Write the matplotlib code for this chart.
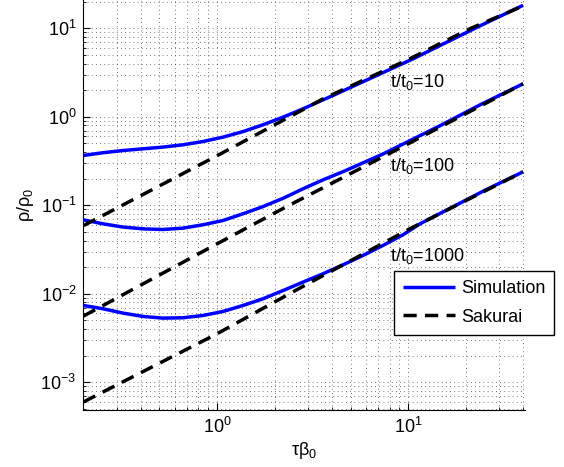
import matplotlib
matplotlib.use("Agg")
import matplotlib.pyplot as plt
from matplotlib.ticker import LogLocator, NullFormatter

plt.rcParams['font.family'] = ['Liberation Sans', 'DejaVu Sans']
plt.rcParams['mathtext.fontset'] = 'custom'
plt.rcParams['mathtext.rm'] = 'Liberation Sans'
plt.rcParams['mathtext.it'] = 'Liberation Sans'
plt.rcParams['mathtext.default'] = 'regular'
plt.rcParams['font.size'] = 13

# Simulation curves
sim10_x = [0.2, 0.253, 0.322, 0.41, 0.521, 0.664, 0.845, 1.074, 1.368, 1.742,
           2.218, 2.818, 3.589, 4.046, 10.62, 23.82, 40]
sim10_y = [0.366, 0.393, 0.416, 0.435, 0.455, 0.483, 0.526, 0.589, 0.681, 0.813,
           0.992, 1.23, 1.556, 1.742, 4.519, 10.67, 18.2]

sim100_x = [0.2, 0.253, 0.322, 0.41, 0.521, 0.664, 0.845, 1.074, 1.368, 1.742,
            2.218, 2.818, 3.589, 4.571, 7.396, 10, 14.72, 23.82, 40]
sim100_y = [0.0685, 0.0618, 0.0568, 0.0542, 0.0533, 0.0552, 0.0603, 0.0673, 0.0802,
            0.0968, 0.12, 0.1535, 0.194, 0.24, 0.38, 0.525, 0.794, 1.365, 2.36]

sim1000_x = [0.2, 0.253, 0.322, 0.41, 0.521, 0.664, 0.845, 1.074, 1.368, 1.742,
             2.218, 2.818, 3.589, 4.571, 5.808, 7.396, 9.419, 11.56, 25.29, 40]
sim1000_y = [0.00738, 0.00678, 0.00605, 0.00555, 0.00531, 0.00536, 0.00569, 0.00631,
             0.00738, 0.00879, 0.01089, 0.01355, 0.01683, 0.02128, 0.0271, 0.0352,
             0.0465, 0.0618, 0.148, 0.239]

# Sakurai curves
sak10_x = [0.2, 1.0, 3.6, 10.2, 21, 40]
sak10_y = [0.059, 0.363, 1.60, 4.52, 9.86, 17.9]

sak100_x = [0.2, 1.0, 2.3, 10, 40]
sak100_y = [0.0056, 0.0367, 0.096, 0.495, 2.36]

sak1000_x = [0.2, 1.0, 2.5, 10.2, 40]
sak1000_y = [0.0006, 0.00353, 0.01054, 0.0542, 0.239]

labels = ['t/t$_0$=10', 't/t$_0$=100', 't/t$_0$=1000']
label_x = [8.05, 8.05, 8.05]
label_y = [2.48, 0.279, 0.0269]

fig = plt.figure(figsize=(5.64, 4.67), dpi=100)
ax = fig.add_axes([0.148, 0.122, 0.783, 0.878])

dash = (0, (3.8, 2.4))
sims = [(sim10_x, sim10_y), (sim100_x, sim100_y), (sim1000_x, sim1000_y)]
saks = [(sak10_x, sak10_y), (sak100_x, sak100_y), (sak1000_x, sak1000_y)]
for i, ((sx, sy), (kx, ky)) in enumerate(zip(sims, saks)):
  ax.plot(sx, sy, color='#0000ff', lw=2.5, solid_capstyle='butt',
          solid_joinstyle='round', label='Simulation' if i == 0 else None, zorder=3)
  ax.plot(kx, ky, color='k', lw=2.5, linestyle=dash, dash_capstyle='butt',
          label='Sakurai' if i == 0 else None, zorder=4)

for txt, tx, ty in zip(labels, label_x, label_y):
  ax.text(tx, ty, txt, ha='left', va='center', fontsize=13, zorder=5)

ax.set_xscale('log')
ax.set_yscale('log')
ax.set_xlim(0.2, 41)
ax.set_ylim(4.86e-4, 20.9)

ax.xaxis.set_minor_locator(LogLocator(base=10, subs=range(2, 10)))
ax.yaxis.set_minor_locator(LogLocator(base=10, subs=range(2, 10)))
ax.xaxis.set_minor_formatter(NullFormatter())
ax.yaxis.set_minor_formatter(NullFormatter())

ax.grid(True, which='both', color='k', linestyle=(0, (1, 4)), linewidth=0.6, alpha=0.7)
ax.tick_params(which='both', direction='in', top=False, right=False)
ax.tick_params(which='major', length=5, width=0.8, labelsize=13, pad=5)
ax.tick_params(which='minor', length=2.5, width=0.6)
for s in ['top', 'right']:
  ax.spines[s].set_visible(False)
for s in ['left', 'bottom']:
  ax.spines[s].set_linewidth(0.8)

ax.set_xlabel(r'$\tau\beta_0$', fontsize=13, labelpad=2)
ax.set_ylabel(r'$\rho/\rho_0$', fontsize=13, labelpad=3)

leg = ax.legend(loc='upper left', bbox_to_anchor=(0.703, 0.339), borderaxespad=0,
                fancybox=False, framealpha=1, edgecolor='k', handlelength=2.9,
                handletextpad=0.3, fontsize=13, borderpad=0.5, labelspacing=0.65)
leg.get_frame().set_linewidth(1.0)
leg.set_zorder(6)

fig.savefig('out.png', dpi=100)
